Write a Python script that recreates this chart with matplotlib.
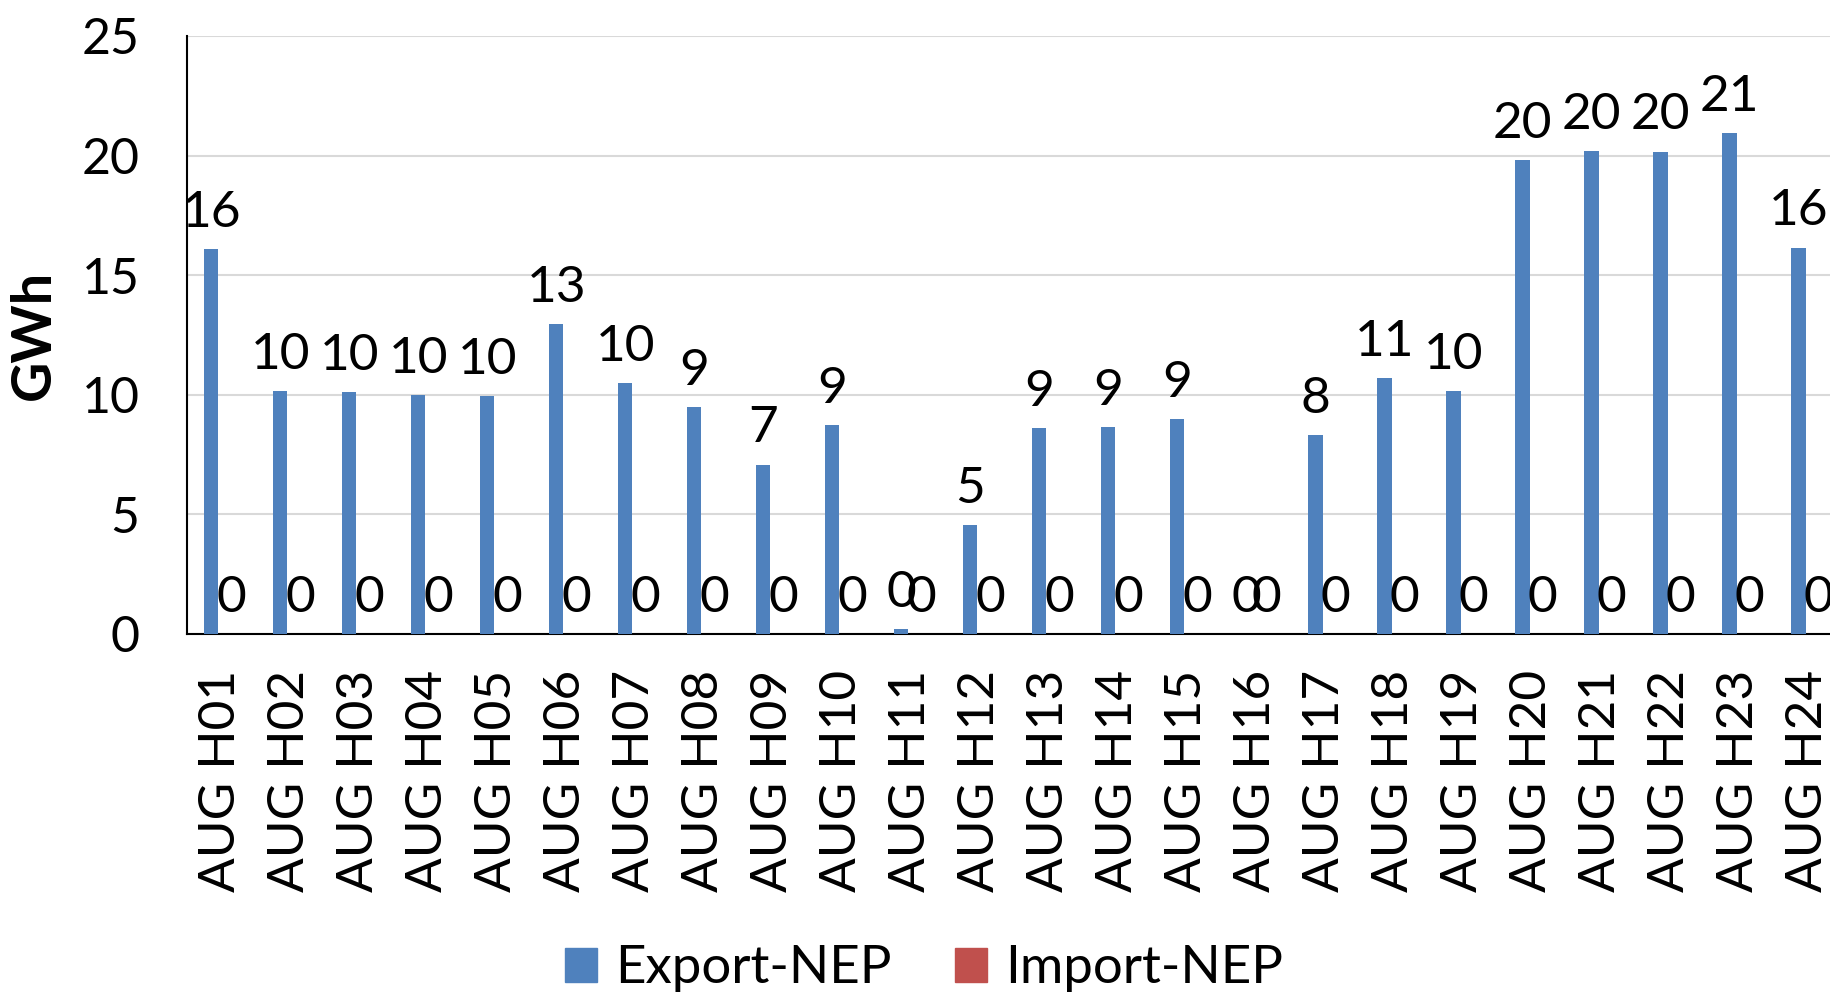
"""
Hourly NEP exchange for August, export vs import per hour block.
"""
import matplotlib
matplotlib.use("Agg")
import numpy as np
import matplotlib.pyplot as plt
from matplotlib.patches import Patch

HOURS = [f"AUG H{h:02d}" for h in range(1, 25)]
EXPORT_NEP = [16.1, 10.15, 10.1, 10.0, 9.96, 12.95, 10.5, 9.47, 7.08, 8.74, 0.2, 4.55,
              8.6, 8.64, 8.98, 0.0, 8.3, 10.7, 10.15, 19.82, 20.2, 20.17, 20.95, 16.15]
IMPORT_NEP = [0.0] * 24

BLUE = "#4F81BD"
RED = "#C0504D"
FONT = "Lato"


def label_bars(ax, xs, values):
    for x, v in zip(xs, values):
        ax.annotate(f"{v:.0f}", (x, v), xytext=(0, 16), textcoords="offset points",
                    ha="center", va="baseline", fontsize=37, family=FONT)


def plot_exchange(path="out.png"):
    plt.rcParams["font.family"] = [FONT, "DejaVu Sans"]
    fig = plt.figure(figsize=(18.3, 10), dpi=100)
    ax = fig.add_axes([0.102, 0.366, 0.905, 0.598])

    x = np.arange(len(HOURS))
    w = 0.21
    off = 0.145
    ax.bar(x - off, EXPORT_NEP, width=w, color=BLUE, zorder=3)
    ax.bar(x + off, IMPORT_NEP, width=w, color=RED, zorder=3)
    label_bars(ax, x - off, EXPORT_NEP)
    label_bars(ax, x + off, IMPORT_NEP)

    ax.set_xlim(-0.5, len(HOURS) - 0.5)
    ax.set_ylim(0, 25)
    ax.set_yticks(range(0, 26, 5))
    ax.set_xticks(x)
    ax.set_xticklabels(HOURS, rotation=90, ha="center", va="top")
    ax.tick_params(axis="x", length=0, pad=26, labelsize=37)
    ax.tick_params(axis="y", length=0, pad=34, labelsize=36)

    ax.grid(axis="y", color="#d9d9d9", linewidth=1.5, zorder=0)
    for side in ("top", "right"):
        ax.spines[side].set_visible(False)
    for side in ("left", "bottom"):
        ax.spines[side].set_linewidth(1.5)
        ax.spines[side].set_color("black")

    # anchor is the right edge of the rotated label
    ax.set_ylabel("GWh", fontsize=40, fontweight="bold")
    ax.yaxis.set_label_coords(-0.077, 0.5)

    handles = [Patch(color=BLUE, label="Export-NEP"), Patch(color=RED, label="Import-NEP")]
    fig.legend(handles=handles, loc="center", bbox_to_anchor=(0.505, 0.031), ncol=2,
               frameon=False, fontsize=38, handlelength=0.6, handleheight=0.6,
               handletextpad=0.35, columnspacing=1.2)

    fig.savefig(path, dpi=100)


if __name__ == "__main__":
    plot_exchange()
